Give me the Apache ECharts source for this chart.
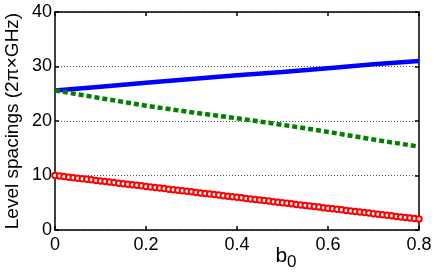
<!DOCTYPE html>
<html><head><meta charset="utf-8">
<script src="https://cdn.jsdelivr.net/npm/echarts@6/dist/echarts.min.js"></script>
<style>html,body{margin:0;padding:0;background:#fff}#c{width:436px;height:276px}</style>
</head><body><div id="c"></div>
<script>
var xTicks = [0, 0.2, 0.4, 0.6, 0.8];
var yTicks = [0, 10, 20, 30, 40];
var lineX = [0, 0.1, 0.2, 0.3, 0.4, 0.5, 0.6, 0.7, 0.8];
var blueVals = [25.6, 26.3, 27.0, 27.7, 28.4, 29.0, 29.7, 30.4, 31.0];
var greenVals = [25.6, 24.2, 22.8, 21.6, 20.5, 19.3, 18.0, 16.6, 15.3];
var redX = [0,0.01,0.02,0.03,0.04,0.05,0.06,0.07,0.08,0.09,0.1,0.11,0.12,0.13,0.14,0.15,0.16,0.17,0.18,0.19,0.2,0.21,0.22,0.23,0.24,0.25,0.26,0.27,0.28,0.29,0.3,0.31,0.32,0.33,0.34,0.35,0.36,0.37,0.38,0.39,0.4,0.41,0.42,0.43,0.44,0.45,0.46,0.47,0.48,0.49,0.5,0.51,0.52,0.53,0.54,0.55,0.56,0.57,0.58,0.59,0.6,0.61,0.62,0.63,0.64,0.65,0.66,0.67,0.68,0.69,0.7,0.71,0.72,0.73,0.74,0.75,0.76,0.77,0.78,0.79,0.8];
var redVals = [10.0,9.9,9.8,9.7,9.6,9.5,9.4,9.3,9.2,9.1,9.0,8.9,8.8,8.7,8.6,8.5,8.4,8.3,8.2,8.1,8.0,7.9,7.8,7.7,7.6,7.5,7.4,7.3,7.2,7.1,7.0,6.9,6.8,6.7,6.6,6.5,6.4,6.3,6.2,6.1,6.0,5.9,5.8,5.7,5.6,5.5,5.4,5.3,5.2,5.1,5.0,4.9,4.8,4.7,4.6,4.5,4.4,4.3,4.2,4.1,4.0,3.9,3.8,3.7,3.6,3.5,3.4,3.3,3.2,3.1,3.0,2.9,2.8,2.7,2.6,2.5,2.4,2.3,2.2,2.1,2.0];
var yName = 'Level spacings (2π×GHz)';

function zip(xs, ys){ return xs.map(function(x,i){ return [x, ys[i]]; }); }
var font = 'Liberation Sans, Arial, sans-serif';
var axisLine = {show:true, onZero:false, lineStyle:{color:'#000', width:1.5}};
var tick = {show:true, inside:true, length:4, lineStyle:{color:'#000', width:1.5}};
var chart = echarts.init(document.getElementById('c'), null, {renderer:'canvas'});
chart.setOption({
  animation:false,
  backgroundColor:'#fff',
  grid:{left:55, right:17, top:12, bottom:46, containLabel:false, outerBoundsMode:'none'},
  xAxis:[{
    type:'value', min:0, max:0.8, interval:0.2, position:'bottom',
    axisLine:axisLine, axisTick:tick,
    axisLabel:{color:'#000', fontSize:18, fontFamily:font, margin:6,
      formatter:function(v){ return xTicks.indexOf(v) >= 0 ? String(v) : ''; }},
    splitLine:{show:false},
    name:'{b|b}{s|0}', nameLocation:'middle', nameGap:12, nameMoveOverlap:false,
    nameTextStyle:{padding:[0,0,0,98], rich:{b:{fontSize:21, fontFamily:font, color:'#000'}, s:{fontSize:17, fontFamily:font, color:'#000', verticalAlign:'bottom', padding:[12,0,0,0]}}}
  },{
    type:'value', min:0, max:0.8, interval:0.2, position:'top', show:true,
    axisLine:axisLine, axisTick:tick,
    axisLabel:{show:false}, splitLine:{show:false}
  }],
  yAxis:[{
    type:'value', min:0, max:40, interval:10, position:'left',
    axisLine:axisLine, axisTick:tick,
    axisLabel:{color:'#000', fontSize:18, fontFamily:font, margin:3,
      formatter:function(v){ return yTicks.indexOf(v) >= 0 ? String(v) : ''; }},
    splitLine:{show:true, lineStyle:{color:'#555', width:1, type:[1,2]}},
    name:yName, nameLocation:'middle', nameGap:33, nameMoveOverlap:false,
    nameTextStyle:{fontSize:19, fontFamily:font, color:'#000'}
  },{
    type:'value', min:0, max:40, interval:10, position:'right', show:true,
    axisLine:axisLine, axisTick:tick,
    axisLabel:{show:false}, splitLine:{show:false}
  }],
  series:[{
    type:'line', xAxisIndex:0, yAxisIndex:0, data:zip(lineX, blueVals),
    showSymbol:false, symbol:'none', lineStyle:{color:'#0000ff', width:4.5}
  },{
    type:'line', xAxisIndex:1, yAxisIndex:1, data:zip(lineX, greenVals),
    showSymbol:false, symbol:'none', lineStyle:{color:'#007f00', width:4.5, type:[5,3]}
  },{
    type:'line', xAxisIndex:0, yAxisIndex:0, data:zip(redX, redVals),
    symbol:'emptyCircle', symbolSize:5.5, showSymbol:true,
    lineStyle:{width:0, opacity:0},
    itemStyle:{color:'#ff0000', borderColor:'#ff0000', borderWidth:1}
  }]
});
</script></body></html>
